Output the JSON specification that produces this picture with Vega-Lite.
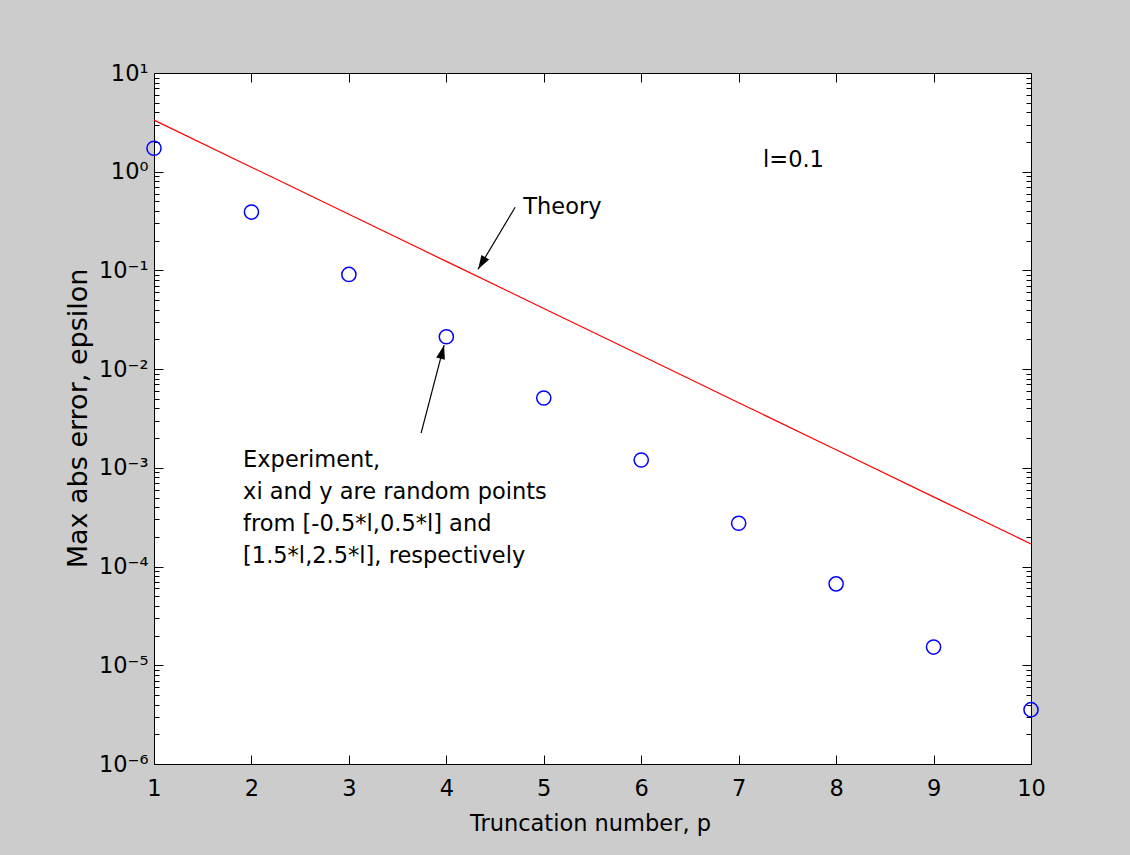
{
  "$schema": "https://vega.github.io/schema/vega-lite/v6.json",
  "width": 877,
  "height": 691,
  "autosize": {"type": "none"},
  "padding": {"left": 154, "top": 73, "right": 99, "bottom": 91},
  "background": "#cccccc",
  "datasets": {
    "theory": [
      {"p": 1, "eps": 3.333},
      {"p": 2, "eps": 1.111},
      {"p": 3, "eps": 0.3704},
      {"p": 4, "eps": 0.1235},
      {"p": 5, "eps": 0.04115},
      {"p": 6, "eps": 0.01372},
      {"p": 7, "eps": 0.004572},
      {"p": 8, "eps": 0.001524},
      {"p": 9, "eps": 0.000508},
      {"p": 10, "eps": 0.0001694}
    ],
    "experiment": [
      {"p": 1, "eps": 1.73},
      {"p": 2, "eps": 0.39},
      {"p": 3, "eps": 0.0911},
      {"p": 4, "eps": 0.0213},
      {"p": 5, "eps": 0.0051},
      {"p": 6, "eps": 0.0012},
      {"p": 7, "eps": 0.000275},
      {"p": 8, "eps": 0.0000668},
      {"p": 9, "eps": 0.0000153},
      {"p": 10, "eps": 0.00000355}
    ],
    "notes": [
      {"label": "l=0.1", "p": 7.25, "eps": 1.31},
      {"label": "Theory", "p": 4.79, "eps": 0.437},
      {"label": "Experiment,\nxi and y are random points\nfrom [-0.5*l,0.5*l] and\n[1.5*l,2.5*l], respectively", "p": 1.914, "eps": 0.0012}
    ],
    "arrows": [
      {"name": "theory", "p": 4.706, "eps": 0.437, "p2": 4.326, "eps2": 0.1028},
      {"name": "experiment", "p": 3.741, "eps": 0.00225, "p2": 3.977, "eps2": 0.0175}
    ]
  },
  "layer": [
    {
      "data": {"name": "theory"},
      "mark": {"type": "line", "color": "#ff0000", "strokeWidth": 1.2},
      "encoding": {
        "x": {
          "field": "p", "type": "quantitative",
          "scale": {"domain": [1, 10], "nice": false, "zero": false},
          "axis": {
            "orient": "bottom", "values": [1, 2, 3, 4, 5, 6, 7, 8, 9, 10],
            "ticks": false, "labelPadding": 13, "labelFlush": false, "labelOverlap": false,
            "title": "Truncation number, p", "titleX": 436, "titleY": 59,
            "titleBaseline": "middle", "titleAlign": "center"
          }
        },
        "y": {
          "field": "eps", "type": "quantitative",
          "scale": {"type": "log", "domain": [0.000001, 10], "nice": false},
          "axis": {
            "orient": "left",
            "values": [0.000001, 0.00001, 0.0001, 0.001, 0.01, 0.1, 1, 10],
            "ticks": false, "labelPadding": 6, "labelFlush": false, "labelOverlap": false,
            "labelBaseline": "middle",
            "labelExpr": "datum.value > 5 ? '10¹' : datum.value > 0.5 ? '10⁰' : datum.value > 0.05 ? '10⁻¹' : datum.value > 0.005 ? '10⁻²' : datum.value > 0.0005 ? '10⁻³' : datum.value > 0.00005 ? '10⁻⁴' : datum.value > 0.000005 ? '10⁻⁵' : '10⁻⁶'",
            "title": "Max abs error, epsilon", "titleX": -76, "titleY": 345,
            "titleFontSize": 27,
            "titleAngle": 270, "titleBaseline": "middle", "titleAlign": "center"
          }
        }
      }
    },
    {
      "data": {"name": "experiment"},
      "mark": {"type": "point", "filled": false, "color": "#0000ff", "strokeWidth": 1.5, "size": 200, "opacity": 1},
      "encoding": {
        "x": {
          "field": "p", "type": "quantitative",
          "scale": {"domain": [1, 10], "nice": false, "zero": false},
          "axis": {"orient": "bottom", "values": [1, 2, 3, 4, 5, 6, 7, 8, 9, 10], "labels": false, "tickSize": 9, "offset": -9, "title": null}
        },
        "y": {
          "field": "eps", "type": "quantitative",
          "scale": {"type": "log", "domain": [0.000001, 10], "nice": false},
          "axis": {"orient": "left", "values": [0.000001, 0.00001, 0.0001, 0.001, 0.01, 0.1, 1, 10], "labels": false, "tickSize": 9, "offset": -9, "title": null}
        }
      }
    },
    {
      "data": {"name": "notes"},
      "mark": {"type": "text", "align": "left", "baseline": "middle", "lineBreak": "\n", "lineHeight": 32, "fontSize": 22.5, "font": "DejaVu Sans", "color": "black"},
      "encoding": {
        "x": {
          "field": "p", "type": "quantitative",
          "scale": {"domain": [1, 10], "nice": false, "zero": false},
          "axis": {"orient": "top", "values": [1, 2, 3, 4, 5, 6, 7, 8, 9, 10], "labels": false, "tickSize": 9, "offset": -9, "title": null}
        },
        "y": {
          "field": "eps", "type": "quantitative",
          "scale": {"type": "log", "domain": [0.000001, 10], "nice": false},
          "axis": {
            "orient": "left",
            "values": [2e-6, 3e-6, 4e-6, 5e-6, 6e-6, 7e-6, 8e-6, 9e-6, 2e-5, 3e-5, 4e-5, 5e-5, 6e-5, 7e-5, 8e-5, 9e-5, 2e-4, 3e-4, 4e-4, 5e-4, 6e-4, 7e-4, 8e-4, 9e-4, 0.002, 0.003, 0.004, 0.005, 0.006, 0.007, 0.008, 0.009, 0.02, 0.03, 0.04, 0.05, 0.06, 0.07, 0.08, 0.09, 0.2, 0.3, 0.4, 0.5, 0.6, 0.7, 0.8, 0.9, 2, 3, 4, 5, 6, 7, 8, 9],
            "labels": false, "tickSize": 5, "offset": -5, "title": null
          }
        },
        "text": {"field": "label"}
      }
    },
    {
      "data": {"name": "arrows"},
      "mark": {"type": "rule", "color": "black", "strokeWidth": 1.2},
      "encoding": {
        "x": {"field": "p", "type": "quantitative", "scale": {"domain": [1, 10], "nice": false, "zero": false}, "axis": null},
        "y": {
          "field": "eps", "type": "quantitative",
          "scale": {"type": "log", "domain": [0.000001, 10], "nice": false},
          "axis": {"orient": "right", "values": [0.000001, 0.00001, 0.0001, 0.001, 0.01, 0.1, 1, 10], "labels": false, "tickSize": 9, "offset": -9, "title": null}
        },
        "x2": {"field": "p2"},
        "y2": {"field": "eps2"}
      }
    },
    {
      "data": {"name": "arrows"},
      "transform": [{"filter": "datum.name === 'theory'"}],
      "mark": {"type": "point", "shape": "M0,0L-0.32,1L0.32,1Z", "size": 784, "angle": 210.8, "filled": true, "color": "black", "opacity": 1, "strokeWidth": 0},
      "encoding": {
        "x": {"field": "p2", "type": "quantitative", "scale": {"domain": [1, 10], "nice": false, "zero": false}, "axis": null},
        "y": {
          "field": "eps2", "type": "quantitative",
          "scale": {"type": "log", "domain": [0.000001, 10], "nice": false},
          "axis": {
            "orient": "right",
            "values": [2e-6, 3e-6, 4e-6, 5e-6, 6e-6, 7e-6, 8e-6, 9e-6, 2e-5, 3e-5, 4e-5, 5e-5, 6e-5, 7e-5, 8e-5, 9e-5, 2e-4, 3e-4, 4e-4, 5e-4, 6e-4, 7e-4, 8e-4, 9e-4, 0.002, 0.003, 0.004, 0.005, 0.006, 0.007, 0.008, 0.009, 0.02, 0.03, 0.04, 0.05, 0.06, 0.07, 0.08, 0.09, 0.2, 0.3, 0.4, 0.5, 0.6, 0.7, 0.8, 0.9, 2, 3, 4, 5, 6, 7, 8, 9],
            "labels": false, "tickSize": 5, "offset": -5, "title": null
          }
        }
      }
    },
    {
      "data": {"name": "arrows"},
      "transform": [{"filter": "datum.name === 'experiment'"}],
      "mark": {"type": "point", "shape": "M0,0L-0.32,1L0.32,1Z", "size": 784, "angle": 14.7, "filled": true, "color": "black", "opacity": 1, "strokeWidth": 0},
      "encoding": {
        "x": {"field": "p2", "type": "quantitative", "scale": {"domain": [1, 10], "nice": false, "zero": false}, "axis": null},
        "y": {"field": "eps2", "type": "quantitative", "scale": {"type": "log", "domain": [0.000001, 10], "nice": false}, "axis": null}
      }
    }
  ],
  "resolve": {"axis": {"x": "independent", "y": "independent"}},
  "config": {
    "view": {"fill": "white", "stroke": "black", "strokeWidth": 1},
    "axis": {
      "domain": false, "grid": false,
      "labelFont": "DejaVu Sans", "labelFontSize": 22.5, "labelColor": "black",
      "tickColor": "black", "tickWidth": 1,
      "titleFont": "DejaVu Sans", "titleFontSize": 22.5, "titleFontWeight": "normal", "titleColor": "black"
    }
  }
}
